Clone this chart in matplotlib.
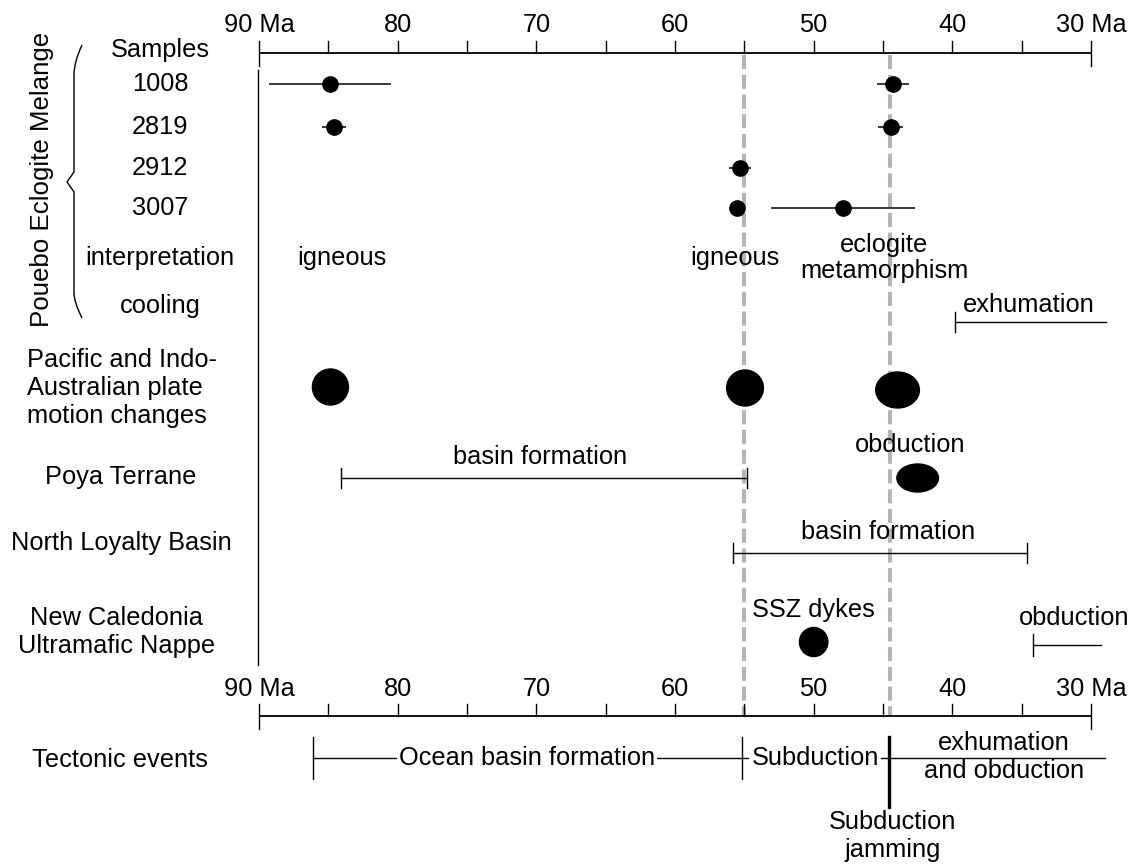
import matplotlib

matplotlib.use("Agg")

import matplotlib.pyplot as plt
import matplotlib.transforms as mtransforms
import numpy as np
from matplotlib.patches import Ellipse, PathPatch
from matplotlib.path import Path

plt.rcParams["font.family"] = ["Liberation Sans", "DejaVu Sans"]

# ages in Ma
sample_names = ["1008", "2819", "2912", "3007"]
igneous_age = [84.9, 84.6, 55.3, 55.5]
igneous_err = [4.4, 0.85, 0.8, 0.0]
eclogite_rows = [0, 1, 3]
eclogite_age = [44.3, 44.45, 47.9]
eclogite_err = [1.15, 0.9, 5.2]

exhumation_span = (39.8, 28.9)
plate_motion_ages = [84.85, 54.95, 43.95]
poya_basin_span = (84.1, 54.8)
poya_obduction_age = 42.5
loyalty_basin_span = (55.8, 34.6)
ssz_dykes_age = 50.0
nappe_obduction_span = (34.2, 29.3)
marker_ages = [55.0, 44.5]

ocean_basin_span = (86.1, 55.2)
jamming_age = 44.6
tectonic_end = 29.0

tick_labels = ["90 Ma", "80", "70", "60", "50", "40", "30 Ma"]
tick_ages = [90, 80, 70, 60, 50, 40, 30]

W, H = 1135, 864
X90, X30 = 259, 1091
PX_PER_MA = (X30 - X90) / 60.0
FS = 18.3

fig = plt.figure(figsize=(W / 100, H / 100), dpi=100)
ax = fig.add_axes([0, 0, 1, 1])
ax.set_xlim(90 + X90 / PX_PER_MA, 90 - (W - X90) / PX_PER_MA)
ax.set_ylim(H, 0)
ax.axis("off")

# x in pixels (axes fraction), y in pixels (data)
lab = mtransforms.blended_transform_factory(ax.transAxes, ax.transData)


def ltext(xpx, y, s, **kw):
    kw.setdefault("ha", "center")
    kw.setdefault("va", "center")
    kw.setdefault("fontsize", FS)
    ax.text(xpx / W, y, s, transform=lab, **kw)


def time_axis(y_line, y_label):
    ax.plot([90, 30], [y_line, y_line], color="k", lw=1.3, solid_capstyle="butt")
    for t in np.arange(35, 90, 5):
        ax.plot([t, t], [y_line - 12, y_line], color="k", lw=1.0)
    for t in (90, 30):
        ax.plot([t, t], [y_line - 12, y_line + 13], color="k", lw=1.0)
    for t, s in zip(tick_ages, tick_labels):
        ax.text(t, y_label, s, ha="center", va="center", fontsize=FS)


def span(a, b, y, tick_left=True, tick_right=True, half=10):
    ax.plot([a, b], [y, y], color="k", lw=1.0)
    if tick_left:
        ax.plot([a, a], [y - half, y + half], color="k", lw=1.0)
    if tick_right:
        ax.plot([b, b], [y - half, y + half], color="k", lw=1.0)


# axes
time_axis(53, 25)
time_axis(716, 689)
ax.plot([90.1, 90.1], [70, 665], color="k", lw=1.0)

# dashed marker lines
for a in marker_ages:
    ax.plot([a, a], [55, 716], color="#b4b4b4", lw=2.9, ls=(0, (3.5, 1.4)), zorder=1)

# left labels
ltext(160, 50, "Samples")
sample_y = [84, 127, 168, 208]
for name, y in zip(sample_names, sample_y):
    ltext(160, y, name)
ltext(160, 258, "interpretation")
ltext(160, 306, "cooling")
ltext(27, 388, "Pacific and Indo-\nAustralian plate\nmotion changes", ha="left", linespacing=1.2)
ltext(121, 477, "Poya Terrane")
ltext(121, 543, "North Loyalty Basin")
ltext(117, 632, "New Caledonia\nUltramafic Nappe", linespacing=1.2)
ltext(120, 760, "Tectonic events")
ltext(42, 179, "Pouebo Eclogite Melange", rotation=90, fontsize=18.6)

# curly brace
brace = Path(
    [(82 / W, 45), (74 / W, 62), (74 / W, 75), (74 / W, 172), (67 / W, 182),
     (74 / W, 192), (74 / W, 293), (74 / W, 302), (82 / W, 318)],
    [Path.MOVETO, Path.CURVE3, Path.CURVE3, Path.LINETO, Path.LINETO,
     Path.LINETO, Path.LINETO, Path.CURVE3, Path.CURVE3],
)
ax.add_patch(PathPatch(brace, transform=lab, fill=False, lw=1.0, color="k"))

# sample ages
ax.errorbar(igneous_age, sample_y, xerr=igneous_err, fmt="o", color="k",
            ms=11, elinewidth=1.1, capsize=0, zorder=3)
ax.errorbar(eclogite_age, [sample_y[i] for i in eclogite_rows], xerr=eclogite_err,
            fmt="o", color="k", ms=11, elinewidth=1.1, capsize=0, zorder=3)

ax.text(84.0, 258, "igneous", ha="center", va="center", fontsize=FS)
ax.text(55.7, 258, "igneous", ha="center", va="center", fontsize=FS)
ax.text(44.9, 258, "eclogite\nmetamorphism", ha="center", va="center", fontsize=FS,
        linespacing=1.15)

# cooling
ax.plot(exhumation_span, [322, 322], color="k", lw=1.0)
ax.plot([exhumation_span[0]] * 2, [312, 332], color="k", lw=1.0)
ax.text(34.5, 305, "exhumation", ha="center", va="center", fontsize=FS)

# plate motion changes
for a, w, y in zip(plate_motion_ages, [2.6, 2.65, 3.15], [387, 388, 390]):
    ax.add_patch(Ellipse((a, y), w, 36, color="k", zorder=3))

# Poya Terrane
span(*poya_basin_span, 478)
ax.text(np.mean(poya_basin_span) + 0.25, 457, "basin formation", ha="center", va="center", fontsize=FS)
ax.add_patch(Ellipse((poya_obduction_age, 478), 3.0, 28, color="k", zorder=3))
ax.text(43.05, 445, "obduction", ha="center", va="center", fontsize=FS)

# North Loyalty Basin
span(*loyalty_basin_span, 553)
ax.text(44.6, 532, "basin formation", ha="center", va="center", fontsize=FS)

# Ultramafic Nappe
ax.add_patch(Ellipse((ssz_dykes_age, 642), 2.05, 29, color="k", zorder=3))
ax.text(ssz_dykes_age, 610, "SSZ dykes", ha="center", va="center", fontsize=FS)
span(*nappe_obduction_span, 645, tick_right=False, half=11)
ax.text(31.2, 618, "obduction", ha="center", va="center", fontsize=FS)

# tectonic events
ty = 758
ax.plot([ocean_basin_span[0], tectonic_end], [ty, ty], color="k", lw=1.0)
for a in ocean_basin_span:
    ax.plot([a, a], [737, 779], color="k", lw=1.0)
ax.plot([jamming_age, jamming_age], [737, 807], color="k", lw=2.4)
box = dict(facecolor="white", edgecolor="none", pad=1.5)
ax.text(np.mean(ocean_basin_span), ty, "Ocean basin formation", ha="center",
        va="center", fontsize=FS, bbox=box)
ax.text(49.9, ty, "Subduction", ha="center", va="center", fontsize=FS, bbox=box)
ax.text(36.3, ty - 1, "exhumation\nand obduction", ha="center", va="center",
        fontsize=FS, linespacing=1.2)
ax.text(44.3, 836, "Subduction\njamming", ha="center", va="center", fontsize=FS,
        linespacing=1.2)

fig.savefig("out.png", dpi=100)
plt.close(fig)
